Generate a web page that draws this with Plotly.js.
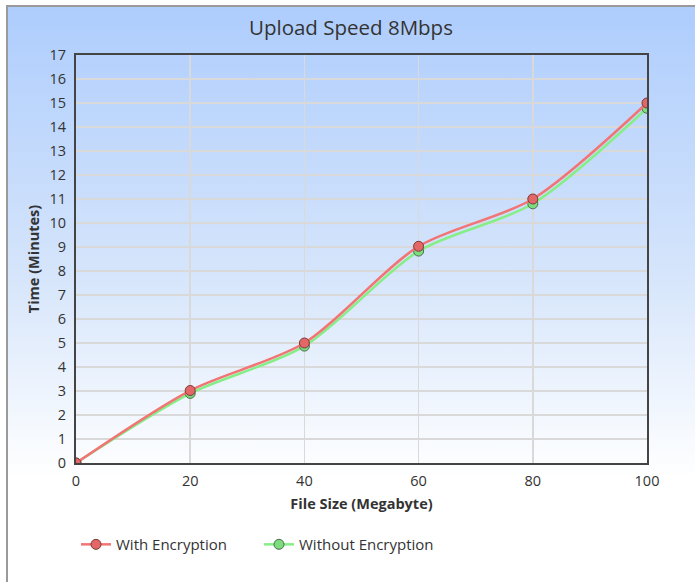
<!DOCTYPE html>
<html>
<head>
<meta charset="utf-8">
<script src="https://cdn.plot.ly/plotly-3.0.1.min.js"></script>
<style>
html,body{margin:0;padding:0;background:#fff;}
#wrap{position:absolute;left:0;top:0;width:695px;height:582px;background:#fff;}
#frame{position:absolute;left:6px;top:5px;width:689px;height:577px;
  border-left:2px solid #9a9a9a;border-top:2px solid #9a9a9a;box-sizing:border-box;
  background:linear-gradient(to bottom,#aecdfd 0%,#d4e4fb 45%,#ffffff 82%,#ffffff 100%);}
#chart{position:absolute;left:0;top:0;width:695px;height:582px;}
</style>
</head>
<body>
<div id="wrap"><div id="frame"></div><div id="chart"></div></div>
<script>
var fileSizes = [0, 20, 40, 60, 80, 100];
var withEncryption = [0, 3.02, 5.0, 9.03, 11.0, 15.0];
var withoutEncryption = [0, 2.9, 4.87, 8.83, 10.8, 14.78];
var yTicks = [0,1,2,3,4,5,6,7,8,9,10,11,12,13,14,15,16,17];

var font = '"Open Sans", "Noto Sans", sans-serif';
var traces = [
  {x: fileSizes, y: withoutEncryption, name: 'Without Encryption', mode: 'lines+markers',
   line: {color: '#86ee86', width: 2.5, shape: 'spline', smoothing: 0.8},
   marker: {size: 10, color: '#7ddc7d', line: {color: '#4a6e4a', width: 1}}},
  {x: fileSizes, y: withEncryption, name: 'With Encryption', mode: 'lines+markers',
   line: {color: '#f27474', width: 2.5, shape: 'spline', smoothing: 0.8},
   marker: {size: 10, color: '#e46767', line: {color: '#7a3a3a', width: 1}}}
];
var layout = {
  width: 695, height: 582,
  paper_bgcolor: 'rgba(0,0,0,0)', plot_bgcolor: 'rgba(0,0,0,0)',
  margin: {l: 76, r: 48, t: 55, b: 119},
  title: {text: 'Upload Speed 8Mbps', x: 0.505, xanchor: 'center', y: 0.953, yanchor: 'middle',
    font: {family: font, size: 20.5, color: '#333', weight: 500}},
  font: {family: font, color: '#333'},
  xaxis: {range: [0, 100], tickvals: fileSizes, ticktext: fileSizes.map(String),
    showgrid: true, gridcolor: '#d9d9d9', gridwidth: 1.5, zeroline: false,
    showline: true, linecolor: '#444', linewidth: 2, mirror: true,
    ticks: '', ticklabelstandoff: 4, tickfont: {size: 14.5, color: '#333'},
    title: {text: '<b>File Size (Megabyte)</b>', font: {size: 14.5, color: '#333'}, standoff: 9}},
  yaxis: {range: [0, 17], tickvals: yTicks, ticktext: yTicks.map(String),
    showgrid: true, gridcolor: '#d9d9d9', gridwidth: 1.5, zeroline: false,
    showline: true, linecolor: '#444', linewidth: 2, mirror: true,
    ticks: '', ticklabelstandoff: 5, tickfont: {size: 14.5, color: '#333'},
    title: {text: '<b>Time (Minutes)</b>', font: {size: 14.5, color: '#333'}, standoff: 6}},
  legend: {orientation: 'h', x: 0.0, xanchor: 'left', y: -0.2, yanchor: 'middle',
    traceorder: 'reversed', font: {size: 15, color: '#333'}, itemwidth: 30,
    entrywidth: 138, entrywidthmode: 'pixels',
    bgcolor: 'rgba(0,0,0,0)'},
  showlegend: true
};
Plotly.newPlot('chart', traces, layout, {displayModeBar: false, staticPlot: true});
</script>
</body>
</html>
